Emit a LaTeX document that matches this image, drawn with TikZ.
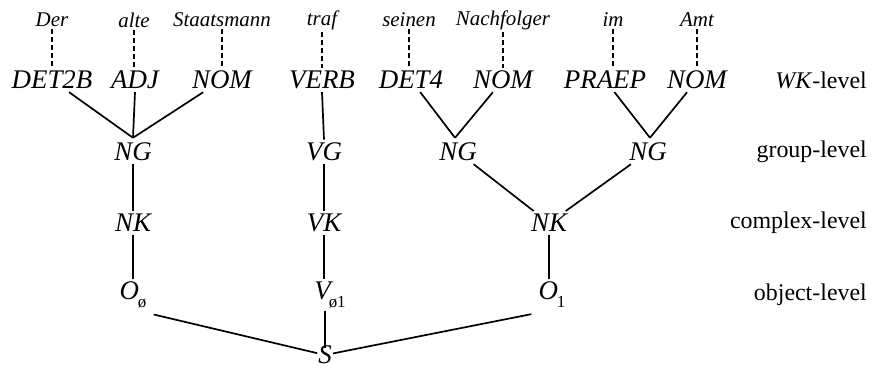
\documentclass[tikz,border=0pt]{standalone}
\usepackage{fontspec}
\setmainfont{Liberation Serif}
\begin{document}
\begin{tikzpicture}[x=1bp,y=-1bp,
  wd/.style={font=\fontsize{21}{25}\selectfont\itshape, inner sep=2bp},
  cat/.style={font=\fontsize{27}{31}\selectfont\itshape, inner sep=3bp},
  lvl/.style={font=\fontsize{24}{28}\selectfont, anchor=east, inner sep=0pt},
  dashline/.style={line width=1.7bp, dash pattern=on 5bp off 3bp},
  edge/.style={line width=1.7bp}]
\useasboundingbox (0,0) rectangle (872,372);
% words
\node[wd] (w1) at (52,20) {Der};
\node[wd] (w2) at (134,20) {alte};
\node[wd] (w3) at (222,20) {Staatsmann};
\node[wd] (w4) at (322,20) {traf};
\node[wd] (w5) at (409,20) {seinen};
\node[wd] (w6) at (503,20) {Nachfolger};
\node[wd] (w7) at (613,20) {im};
\node[wd] (w8) at (697,20) {Amt};
% WK level
\node[cat] (k1) at (52,80) {DET2B};
\node[cat] (k2) at (135,80) {ADJ};
\node[cat] (k3) at (222,80) {NOM};
\node[cat] (k4) at (322,80) {VERB};
\node[cat] (k5) at (411,80) {DET4};
\node[cat] (k6) at (503,80) {NOM};
\node[cat] (k7) at (605,80) {PRAEP};
\node[cat] (k8) at (697,80) {NOM};
% group level
\node[cat] (g1) at (133,152) {NG};
\node[cat] (g2) at (324,152) {VG};
\node[cat] (g3) at (458,152) {NG};
\node[cat] (g4) at (648,152) {NG};
% complex level
\node[cat] (c1) at (133,223) {NK};
\node[cat] (c2) at (324,223) {VK};
\node[cat] (c3) at (549,223) {NK};
% object level
\node[cat] (o1) at (133,295) {O\kern-1bp\raisebox{-0.3em}{\fontsize{17}{17}\selectfont\upshape ø}};
\node[cat] (o2) at (330,295) {V\kern-2bp\raisebox{-0.3em}{\fontsize{17}{17}\selectfont\upshape ø1}};
\node[cat] (o3) at (552,295) {O\kern-1bp\raisebox{-0.3em}{\fontsize{17}{17}\selectfont\upshape 1}};
% sentence
\node[cat, inner sep=1bp] (s) at (325,355) {S};
% level labels
\node[lvl] (l1) at (867,80) {\textit{WK}-level};
\node[lvl] (l2) at (867,152) {group-level};
\node[lvl] (l3) at (867,223) {complex-level};
\node[lvl] (l4) at (867,295) {object-level};
% dashed connectors
\foreach \a/\b in {w1/k1,w2/k2,w3/k3,w4/k4,w5/k5,w6/k6,w7/k7,w8/k8}
  \draw[dashline] (\a.south) -- (\a.south |- \b.north);
% solid connectors
\coordinate (a1) at ([yshift=2bp]g1.north);
\coordinate (a3) at ([xshift=-3bp,yshift=2bp]g3.north);
\coordinate (a4) at ([xshift=2bp,yshift=2bp]g4.north);
\draw[edge] (k1) -- (a1);
\draw[edge] (k2.south) -- (a1);
\draw[edge] (k3) -- (a1);
\draw[edge] (k4.south) -- (g2.north);
\draw[edge] (k5) -- (a3);
\draw[edge] (k6) -- (a3);
\draw[edge] (k7) -- (a4);
\draw[edge] (k8) -- (a4);
\draw[edge] (g1) -- (c1);
\draw[edge] (g2) -- (c2);
\draw[edge] (g3) -- (c3);
\draw[edge] (g4) -- (c3);
\draw[edge] (c1) -- (o1);
\draw[edge] (c2) -- (c2 |- o2.north);
\draw[edge] (c3.south) -- (c3.south |- o3.north);
\draw[edge] ([shift={(4bp,-3bp)}]o1.south east) -- (s);
\draw[edge] (o2.south -| s) -- ([yshift=-3bp]s.north);
\draw[edge] (s) -- ([shift={(-4bp,-3bp)}]o3.south west);
\end{tikzpicture}
\end{document}
